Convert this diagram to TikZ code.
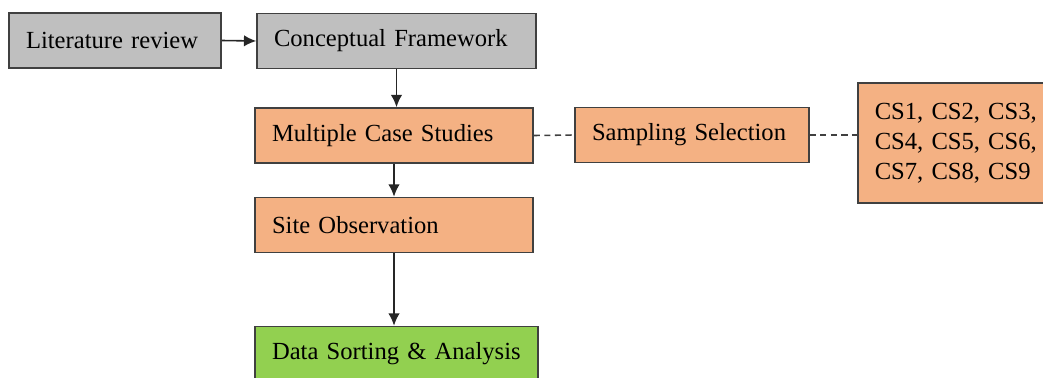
\documentclass[tikz,border=0pt]{standalone}
\usepackage{fontspec}
\setmainfont{Liberation Serif}
\usepackage{xcolor}
\usepackage{tikz}
\usetikzlibrary{calc, arrows.meta}

\definecolor{boxgray}{HTML}{BFBFBF}
\definecolor{boxorange}{HTML}{F4B183}
\definecolor{boxgreen}{HTML}{92D050}

\begin{document}
\begin{tikzpicture}[x=0.02cm, y=-0.02cm, >={Latex[length=7pt, width=6.5pt]}]
    % --- kiểu dáng chung ---
    \tikzset{
        box/.style={draw=black!75, line width=0.9pt, inner xsep=0.34cm, inner ysep=0pt,
            align=left, minimum height=1.1cm, font=\fontsize{14}{17}\selectfont},
        flow/.style={->, line width=0.9pt, draw=black!85},
        link/.style={line width=0.9pt, draw=black!75, dash pattern=on 3.5pt off 2.5pt}
    }
    % Khung ảnh
    \useasboundingbox (0,0) rectangle (1043,378);

    % Các hộp
    \node[box, fill=boxgray, text width=3.56cm] (lit) at (115,40.5) {Literature review};
    \node[box, fill=boxgray, text width=4.90cm] (concept) at (396.5,41) {Conceptual Framework};
    \node[box, fill=boxorange, text width=4.88cm] (multi) at (394,135.5) {Multiple Case Studies};
    \node[box, fill=boxorange, text width=4.00cm] (samp) at (692,135) {Sampling Selection};
    \node[box, fill=boxorange, anchor=west, text width=3.40cm, minimum height=2.4cm] (cs) at (857,143)
        {CS1, CS2, CS3,\\ CS4, CS5, CS6,\\ CS7, CS8, CS9};
    \node[box, fill=boxorange, text width=4.88cm] (site) at (394,225) {Site Observation};
    \node[box, fill=boxgreen, text width=4.98cm] (data) at (396.5,354) {Data Sorting \& Analysis};

    % Các mũi tên
    \draw[flow] (lit.east) -- (concept.west);
    \draw[flow] (concept.south) -- (concept.south |- multi.north);
    \draw[flow] (multi.south) -- (site.north);
    \draw[flow] (site.south) -- (site.south |- data.north);
    % Nét đứt
    \draw[link] (multi.east) -- (samp.west);
    \draw[link] (samp.east) -- (samp.east -| cs.west);
\end{tikzpicture}
\end{document}
